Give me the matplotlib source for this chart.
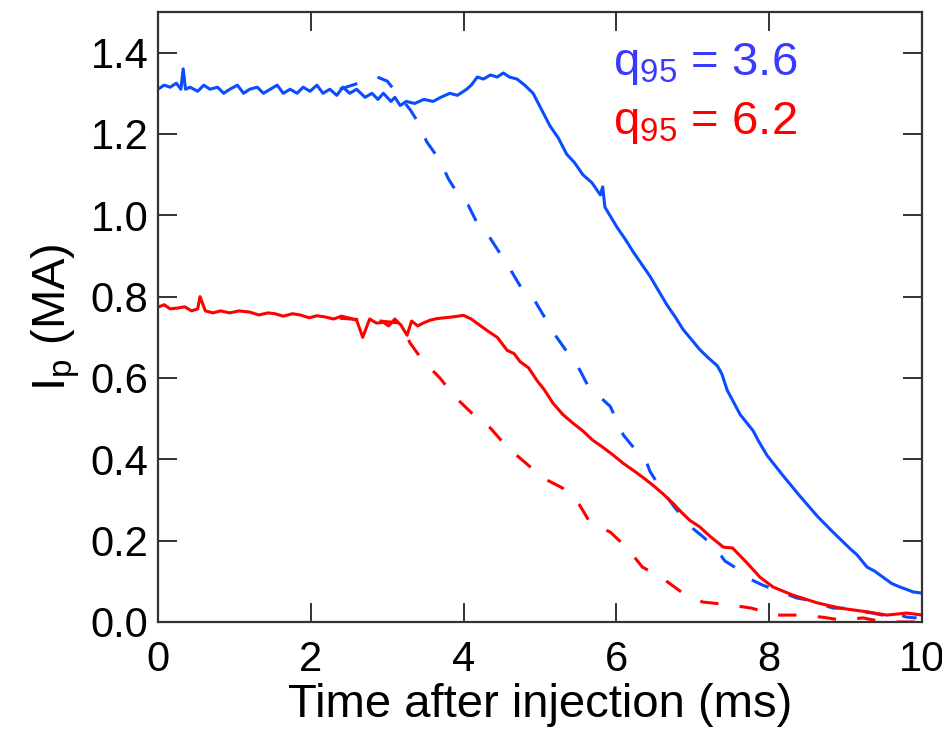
import matplotlib
matplotlib.use("Agg")
import matplotlib.pyplot as plt

plt.rcParams["font.family"] = ["Liberation Sans", "DejaVu Sans"]
plt.rcParams["mathtext.default"] = "regular"

# q95 = 3.6, solid trace (time in ms, Ip in MA)
t_blue = [0.00, 0.08, 0.16, 0.24, 0.30, 0.33, 0.36, 0.42, 0.52, 0.60, 0.68, 0.78,
          0.86, 0.94, 1.04, 1.12, 1.20, 1.30, 1.38, 1.47, 1.56, 1.64, 1.73, 1.82,
          1.90, 1.99, 2.08, 2.16, 2.25, 2.34, 2.42, 2.51, 2.60, 2.71, 2.80, 2.88,
          2.95, 3.05, 3.10, 3.17, 3.25, 3.36, 3.48, 3.60, 3.70, 3.82, 3.92, 4.04,
          4.10, 4.18, 4.26, 4.35, 4.44, 4.52, 4.60, 4.70, 4.80, 4.91,
          5.02, 5.13, 5.24, 5.35, 5.45, 5.56, 5.68, 5.79, 5.82, 5.85, 6.01, 6.12,
          6.22, 6.33, 6.44, 6.55, 6.66, 6.77, 6.87, 6.98, 7.09, 7.20, 7.32, 7.38,
          7.45, 7.62, 7.79, 7.86, 7.97, 8.18, 8.40, 8.63, 8.84, 9.06, 9.15, 9.28,
          9.38, 9.49, 9.60, 9.71, 9.80, 9.88, 10.0]
ip_blue = [1.31, 1.32, 1.315, 1.325, 1.31, 1.36, 1.31, 1.315, 1.305, 1.32, 1.31, 1.315,
           1.30, 1.31, 1.32, 1.30, 1.31, 1.315, 1.30, 1.31, 1.32, 1.30, 1.31, 1.30,
           1.315, 1.305, 1.32, 1.30, 1.31, 1.295, 1.315, 1.30, 1.31, 1.29, 1.30, 1.285,
           1.30, 1.28, 1.29, 1.27, 1.28, 1.275, 1.285, 1.28, 1.29, 1.30, 1.295, 1.31,
           1.32, 1.34, 1.335, 1.345, 1.34, 1.35, 1.34, 1.335, 1.32, 1.30,
           1.26, 1.22, 1.19, 1.15, 1.13, 1.10, 1.08, 1.05, 1.07, 1.02, 0.97, 0.94,
           0.91, 0.88, 0.85, 0.815, 0.78, 0.75, 0.72, 0.695, 0.67, 0.65, 0.63, 0.61,
           0.57, 0.51, 0.47, 0.445, 0.41, 0.36, 0.31, 0.26, 0.22, 0.18, 0.165, 0.135,
           0.125, 0.11, 0.095, 0.086, 0.08, 0.074, 0.071]

# q95 = 3.6, dashed trace
t_blue_d = [2.38, 2.87, 3.00, 3.17, 3.30, 3.39, 3.52, 3.69, 3.80, 3.95, 4.06, 4.18,
            4.31, 4.45, 4.57, 4.76, 4.90, 5.09, 5.20, 5.37, 5.52, 5.63, 5.92, 6.09,
            6.22, 6.40, 6.44, 6.61, 6.77, 7.00, 7.13, 7.29, 7.42, 7.59, 7.72, 7.91,
            8.08, 8.36, 8.51, 8.70, 8.84, 9.10, 9.23, 9.35, 9.48, 9.62, 9.71, 9.80,
            9.93]
ip_blue_d = [1.31, 1.34, 1.33, 1.29, 1.26, 1.233, 1.18, 1.135, 1.09, 1.045, 1.025, 0.98,
             0.955, 0.914, 0.88, 0.82, 0.80, 0.74, 0.705, 0.66, 0.62, 0.58, 0.53, 0.46,
             0.43, 0.39, 0.37, 0.32, 0.28, 0.23, 0.21, 0.184, 0.15, 0.13, 0.108, 0.091,
             0.079, 0.059, 0.054, 0.042, 0.034, 0.034, 0.025, 0.022, 0.017, 0.029, 0.017, 0.012,
             0.010]

# q95 = 6.2, solid trace
t_red = [0.00, 0.08, 0.16, 0.26, 0.35, 0.44, 0.52, 0.55, 0.62, 0.72, 0.82, 0.94,
         1.06, 1.20, 1.32, 1.44, 1.53, 1.64, 1.76, 1.86, 1.98, 2.08, 2.19, 2.30,
         2.40, 2.51, 2.60, 2.68, 2.77, 2.86, 2.95, 3.02, 3.10, 3.18, 3.26, 3.32,
         3.40, 3.47, 3.56, 3.65, 3.75, 3.85, 4.00, 4.10, 4.21, 4.32, 4.44, 4.57,
         4.66, 4.74, 4.85, 4.96, 5.06, 5.17, 5.30, 5.43, 5.56, 5.69, 5.82, 5.96,
         6.09, 6.22, 6.35, 6.48, 6.61, 6.74, 6.85, 6.96, 7.09, 7.23, 7.40, 7.52,
         7.71, 7.88, 8.05, 8.31, 8.63, 8.93, 9.28, 9.54, 9.80, 10.0]
ip_red = [0.774, 0.78, 0.77, 0.772, 0.775, 0.765, 0.77, 0.80, 0.765, 0.76, 0.765, 0.76,
          0.765, 0.762, 0.755, 0.76, 0.758, 0.752, 0.758, 0.755, 0.748, 0.753, 0.75, 0.745,
          0.752, 0.747, 0.742, 0.70, 0.745, 0.735, 0.737, 0.728, 0.745, 0.73, 0.705, 0.74,
          0.728, 0.735, 0.742, 0.746, 0.748, 0.75, 0.754, 0.745, 0.73, 0.715, 0.70, 0.668,
          0.66, 0.64, 0.625, 0.594, 0.57, 0.538, 0.51, 0.489, 0.47, 0.447, 0.43, 0.41,
          0.39, 0.373, 0.355, 0.336, 0.315, 0.292, 0.27, 0.25, 0.234, 0.21, 0.184, 0.182,
          0.145, 0.110, 0.086, 0.066, 0.047, 0.034, 0.025, 0.017, 0.022, 0.017]

# q95 = 6.2, dashed trace
t_red_d = [2.38, 2.91, 3.17, 3.30, 3.46, 3.69, 3.89, 4.11, 4.35, 4.57, 4.80, 5.04,
           5.29, 5.52, 5.65, 5.92, 6.14, 6.34, 6.60, 6.87, 7.13, 7.49, 7.77, 8.08,
           8.36, 8.69, 8.93, 9.23, 9.49, 9.80, 10.0]
ip_red_d = [0.747, 0.74, 0.735, 0.686, 0.644, 0.60, 0.553, 0.513, 0.477, 0.43, 0.393, 0.354,
            0.33, 0.287, 0.246, 0.221, 0.182, 0.135, 0.108, 0.071, 0.049, 0.042, 0.034, 0.017,
            0.017, 0.012, 0.005, 0.010, 0.0, 0.0, 0.0]

blue = "#0a4dff"
red = "#ff0000"

fig = plt.figure(figsize=(9.42, 7.34), dpi=100)
ax = fig.add_axes([0.1677, 0.1526, 0.8111, 0.8311])

ax.plot(t_blue_d, ip_blue_d, color=blue, lw=2.2, dashes=(6, 7))
ax.plot(t_red_d, ip_red_d, color=red, lw=2.2, dashes=(6, 7))
ax.plot(t_blue, ip_blue, color=blue, lw=2.2)
ax.plot(t_red, ip_red, color=red, lw=2.2)

ax.set_xlim(0, 10)
ax.set_ylim(0, 1.5)
ax.set_xticks([0, 2, 4, 6, 8, 10])
ax.set_yticks([0.0, 0.2, 0.4, 0.6, 0.8, 1.0, 1.2, 1.4])
ax.set_yticklabels(["0.0", "0.2", "0.4", "0.6", "0.8", "1.0", "1.2", "1.4"])
ax.tick_params(direction="in", length=14, width=1.4, color="#333333",
               labelsize=30, top=True, right=True)
ax.tick_params(axis="x", pad=13)
ax.tick_params(axis="y", pad=7)
for s in ax.spines.values():
    s.set_linewidth(1.6)
    s.set_color("#333333")

# "10" is cut at the right edge, like in the original figure
ax.set_xlabel("Time after injection (ms)", fontsize=34, labelpad=2)
ax.set_ylabel("I$_p$ (MA)", fontsize=34, labelpad=6)

ax.text(5.96, 1.344, "q$_{95}$ = 3.6", color="#3a3aff", fontsize=34, va="baseline")
ax.text(5.96, 1.20, "q$_{95}$ = 6.2", color=red, fontsize=34, va="baseline")

plt.savefig("out.png", dpi=100)
plt.close()
